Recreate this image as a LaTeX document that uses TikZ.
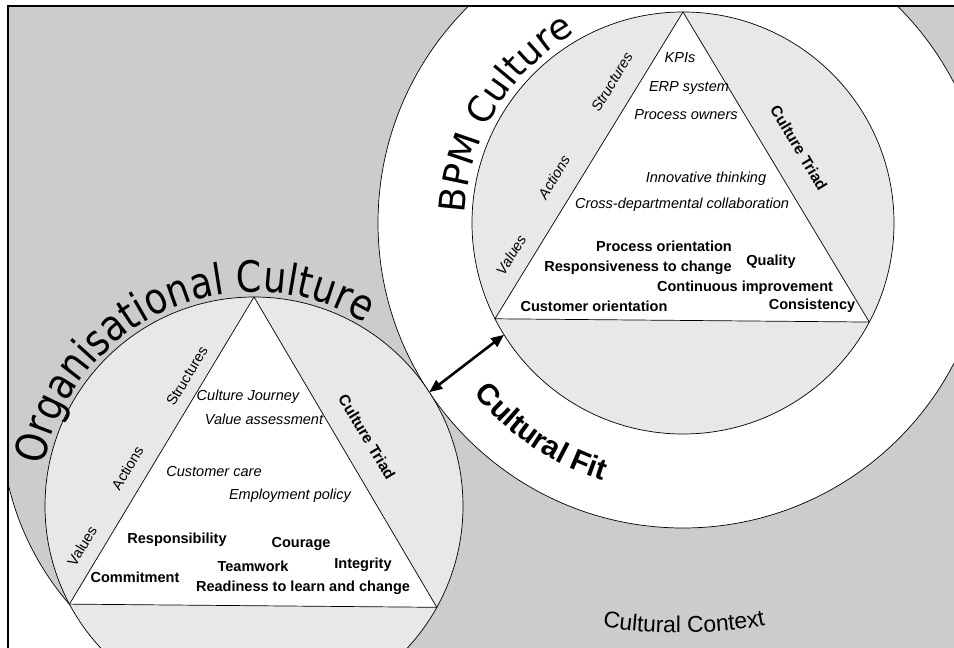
\documentclass[tikz,border=0pt]{standalone}
\usepackage{fontspec}
\setmainfont{Liberation Sans}
\newfontfamily\titlefont{DejaVu Sans}
\newfontfamily\narrowfont[FakeStretch=0.85]{DejaVu Sans}
\usetikzlibrary{arrows.meta,decorations.text}
\definecolor{ctx}{HTML}{CCCCCC}
\definecolor{inner}{HTML}{E8E8E8}

\begin{document}
\begin{tikzpicture}[x=0.03cm, y=0.03cm,
    rim/.style={draw, line width=0.6pt},
    disc/.style={circle, rim, fill=inner, inner sep=0pt, outer sep=0pt},
    it/.style={font=\fontsize{12.4}{14}\selectfont\itshape, inner sep=0pt},
    bd/.style={font=\fontsize{12.4}{14}\selectfont\bfseries, inner sep=0pt},
    side/.style={font=\fontsize{12.4}{14}\selectfont, inner sep=0pt},
    triad/.style={font=\fontsize{13.2}{15}\selectfont\bfseries, inner sep=0pt},
    fitarrow/.style={line width=2.2pt, {Triangle[length=11pt,width=9pt]}-{Triangle[length=11pt,width=9pt]}}]
\useasboundingbox (0,0) rectangle (954,648);
\fill[white] (0,0) rectangle (954,648);

\begin{scope}
    \clip (8,0) rectangle (954,642);
    % Sfondo
    \fill[ctx] (8,0) rectangle (954,642);
    \fill[white] (8,165) arc[start angle=192.8, end angle=234.2, radius=280] -- (8,0) -- cycle;
    \draw[line width=0.6pt] (8,165) arc[start angle=192.8, end angle=234.2, radius=280];

    % Cerchi
    \draw[rim, fill=white] (683,425) circle[radius=305];
    \node[disc, minimum size=12.54cm] (org) at (254,142) {};
    \node[disc, minimum size=12.66cm] (bpm) at (683,425) {};

    % Triangoli
    \draw[rim, fill=white] (org.90) -- (org.331.5) -- (org.208.5) -- cycle;
    \draw[rim, fill=white] (bpm.90) -- (bpm.332.8) -- (bpm.207.2) -- cycle;
\end{scope}

% Titoli curvi
\path[decorate, decoration={text along path, text align=center,
    text={|\narrowfont\fontsize{36.7}{42}\selectfont|Organisational Culture}}]
    (org.center) ++(185:214) arc[start angle=185, end angle=43, radius=214];
\path[decorate, decoration={text along path, text align=center,
    text={|\titlefont\fontsize{30.7}{35}\selectfont|BPM Culture}}]
    (bpm.center) ++(205:218) arc[start angle=205, end angle=92, radius=218];
\path[decorate, decoration={text along path, text align=center,
    text={|\fontsize{25.6}{30}\selectfont\bfseries|Cultural Fit}}]
    (bpm.center) ++(200:270) arc[start angle=200, end angle=272, radius=270];
\path[decorate, decoration={text along path, text align=center,
    text={|\fontsize{19.5}{23}\selectfont|Cultural Context}}]
    (590,24) .. controls (640,12) and (728,12) .. (778,26);

% Lati dei triangoli
\foreach \n/\x/\y/\lab in {os/187/272/Structures, oa/127.5/180/Actions, ov/82/102/Values}
    \node[side, rotate=59] (\n) at (\x,\y) {\lab};
\foreach \n/\x/\y/\lab in {bs/612/566/Structures, ba/554/471/Actions, bv/511/393/Values}
    \node[side, rotate=59, font=\fontsize{12.4}{14}\selectfont\itshape] (\n) at (\x,\y) {\lab};
\node[triad, rotate=-59] (ot) at (367,211) {Culture Triad};
\node[triad, rotate=-59] (bt) at (799,500) {Culture Triad};

% Strutture e azioni
\foreach \n/\x/\y/\lab in {oj/248/251/Culture Journey, ova/264/229/Value assessment,
        oc/214/176/Customer care, oe/290/152/Employment policy,
        bk/680/590/KPIs, be/689/560/ERP system, bp/686/533/Process owners,
        bi/706/469/Innovative thinking, bc/682/443/Cross-departmental collaboration}
    \node[it] (\n) at (\x,\y) {\lab};

% Valori
\foreach \n/\x/\y/\lab in {o1/177/108/Responsibility, o2/301/104/Courage,
        o3/253/82/Teamwork, o4/363/83/Integrity, o5/135/71/Commitment,
        o6/303/60/Readiness to learn and change,
        b1/664/402/Process orientation, b2/771/386/Quality,
        b3/638/380/Responsiveness to change, b4/745/360/Continuous improvement,
        b5/594/342/Customer orientation, b6/812/342/Consistency}
    \node[bd] (\n) at (\x,\y) {\lab};

% Cornice
\draw[line width=1.6pt, line join=miter] (8,-5) -- (8,642) -- (960,642);

% Cultural fit
\draw[fitarrow] (org.33.4) -- (bpm.212);
\end{tikzpicture}
\end{document}
